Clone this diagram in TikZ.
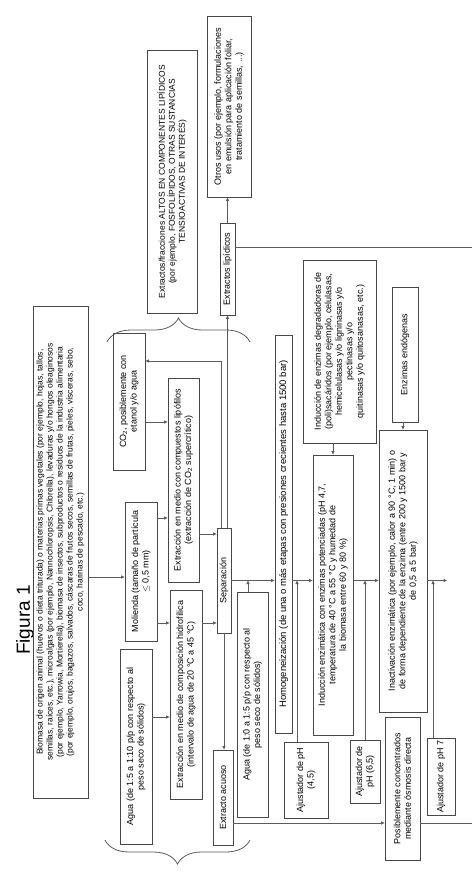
\documentclass[tikz,border=0pt]{standalone}
\usepackage{fontspec}
\setmainfont{Liberation Sans}
\usetikzlibrary{arrows.meta,decorations.pathreplacing}
\definecolor{Frame}{HTML}{474747}
\definecolor{Wire}{HTML}{5C5C5C}

\begin{document}
\begin{tikzpicture}[x=1pt,y=-1pt,
  box/.style={draw=Frame,line width=0.8pt,fill=white,rotate=90,align=center,inner sep=1.5pt,
    font=\fontsize{9}{10.5}\selectfont},
  small/.style={font=\fontsize{8.5}{10}\selectfont},
  arr/.style={Wire,line width=0.8pt,-{Triangle[length=3.5pt,width=3pt]}},
  lin/.style={Wire,line width=0.8pt},
  brc/.style={Wire,line width=0.8pt,decorate,decoration={brace,amplitude=24pt}}]
  \useasboundingbox (0,0) rectangle (472,872);

  \node[rotate=90,font=\fontsize{19}{22}\selectfont] (fig) at (25,620) {Figura 1};

  % materia prima y extraccion
  \node[box,small,minimum width=492pt,minimum height=55pt] (bio) at (60.5,552)
    {Biomasa de origen animal (huevos o dieta triturada) o materias primas vegetales (por ejemplo, hojas, tallos,\\
     semillas, raíces, etc.), microalgas (por ejemplo, Nannochloropsis, Chlorella), levaduras y/o hongos oleaginosos\\
     (por ejemplo, Yarrowia, Mortierella), biomasa de insectos, subproductos o residuos de la industria alimentaria\\
     (por ejemplo, orujos, bagazos, salvados, cáscaras de frutos secos, semillas de frutas, pieles, vísceras, sebo,\\
     coco, harinas de pescado, etc.)};
  \node[box,minimum width=137pt,minimum height=32pt] (co2) at (129,401.5)
    {CO\textsubscript{2}, posiblemente con\\ etanol y/o agua};
  \node[box,minimum width=139pt,minimum height=32pt] (mol) at (141,571.5)
    {Molienda (tamaño de partícula\\ $\leq$ 0,5 mm)};
  \node[box,minimum width=195pt,minimum height=32pt] (agua1) at (136,746.5)
    {Agua (de 1:5 a 1:10 p/p con respecto al\\ peso seco de sólidos)};
  \node[box,minimum width=204pt,minimum height=31pt] (scf) at (183.5,480)
    {Extracción en medio con compuestos lipófilos\\ (extracción de CO\textsubscript{2} supercrítico)};
  \node[box,minimum width=209pt,minimum height=32pt] (hid) at (186,694.5)
    {Extracción en medio de composición hidrofílica\\ (intervalo de agua de 20 °C a 45 °C)};
  \node[box,small,minimum width=263pt,minimum height=50pt] (frac) at (172,181.5)
    {Extractos/fracciones ALTOS EN COMPONENTES LIPÍDICOS\\
     (por ejemplo, FOSFOLÍPIDOS, OTRAS SUSTANCIAS\\ TENSIOACTIVAS DE INTERÉS)};
  \node[box,minimum width=181pt,minimum height=44pt] (otros) at (229,106.5)
    {Otros usos (por ejemplo, formulaciones\\ en emulsión para aplicación foliar,\\ tratamiento de semillas, ...)};
  \node[box,minimum width=92pt,minimum height=15pt] (lip) at (227.5,269) {Extractos lipídicos};
  \node[box,minimum width=105pt,minimum height=14pt] (sep) at (224,580.5) {Separación};
  \node[box,minimum width=95pt,minimum height=20pt] (acu) at (223,797.5) {Extracto acuoso};

  % tratamiento del residuo
  \node[box,minimum width=225pt,minimum height=31pt] (agua2) at (252.5,704.5)
    {Agua (de 1:0 a 1:5 p/p con respecto al\\ peso seco de sólidos)};
  \node[box,font=\fontsize{9.5}{11}\selectfont,minimum width=398pt,minimum height=17pt] (hom) at (283.5,534)
    {Homogeneización (de una o más etapas con presiones crecientes hasta 1500 bar)};
  \node[box,minimum width=76pt,minimum height=44pt] (aj1) at (306,780) {Ajustador de pH\\ (4,5)};
  \node[box,minimum width=183pt,minimum height=73pt] (enz) at (339.5,351.5)
    {Inducción de enzimas degradadoras de\\ (poli)sacáridos (por ejemplo, celulasas,\\
     hemicelulasas y/o ligninasas y/o\\ pectinasas y/o\\ quitinasas y/o quitosanasas, etc.)};
  \node[box,minimum width=280pt,minimum height=40pt] (indu) at (333,595)
    {Inducción enzimática con enzimas potenciadas (pH 4,7,\\ temperatura de 40 °C a 55 °C y humedad de\\
     la biomasa entre 60 y 80 \%)};
  \node[box,minimum width=63pt,minimum height=30pt] (aj2) at (365,771.5) {Ajustador de\\ pH (6,5)};
  \node[box,minimum width=135pt,minimum height=26pt] (endo) at (405,354.5) {Enzimas endógenas};
  \node[box,minimum width=282pt,minimum height=48pt] (inac) at (403,571)
    {Inactivación enzimática (por ejemplo, calor a 90 °C, 1 min) o\\
     de forma dependiente de la enzima (entre 200 y 1500 bar y\\ de 0,5 a 5 bar)};
  \node[box,minimum width=143pt,minimum height=35pt] (pos) at (402.5,788.5)
    {Posiblemente concentrados\\ mediante ósmosis directa};
  \node[box,minimum width=77pt,minimum height=28pt] (aj3) at (441,776.5) {Ajustador de pH 7};

  % niveles de las lineas
  \coordinate (yRec) at (0,361);
  \coordinate (yCO) at (0,422);
  \coordinate (yMol) at (0,518);
  \coordinate (ySc) at (0,534);
  \coordinate (yBio) at (0,577);
  \coordinate (yHid) at (0,623);
  \coordinate (yAg) at (0,717);
  \coordinate (yLip) at (0,247);
  \coordinate (yAcu) at (0,823);
  \coordinate (xRec) at (221,0);
  \coordinate (xAg) at (248,0);
  \coordinate (xAj1) at (297,0);
  \coordinate (xAj2) at (365,0);
  \coordinate (xAj3) at (433,0);
  \coordinate (edge) at (472,0);
  \coordinate (out) at (447,580.5);

  \draw[arr] (bio.south |- yBio) -- (mol.north |- yBio);
  \draw[arr] (co2.south |- yCO) -- (scf.north |- yCO);
  \draw[arr] (mol.south |- yMol) -- (scf.north |- yMol);
  \draw[arr] (mol.south |- yHid) -- (hid.north |- yHid);
  \draw[arr] (agua1.south |- yAg) -- (hid.north |- yAg);
  \draw[arr] (scf.south |- ySc) -- (sep.north |- ySc);
  \draw[arr] (hid.south |- yHid) -- (sep.north |- yHid);
  \draw[arr] (sep.east -| lip.west) -- (lip.west);
  \draw[arr] (sep.east -| xRec) |- (co2.south |- yRec);
  \draw[arr] (lip.east) -- (lip.east |- otros.west);
  \draw[lin] (lip.south |- yLip) -- (edge |- yLip);
  \draw[arr] (sep.west) -- (sep.west |- acu.east);
  \draw[arr] (acu.south |- yAcu) -- (pos.north |- yAcu);
  \draw[lin] (pos.south |- yAcu) -- (edge |- yAcu);

  % linea principal
  \draw[arr] (sep.south) -- (sep.south -| hom.north);
  \draw[arr] (hom.south |- sep.south) -- (indu.north |- sep.south);
  \draw[arr] (indu.south |- sep.south) -- (inac.north |- sep.south);
  \draw[arr] (inac.south |- sep.south) -- (out);
  \draw[arr] (agua2.east -| xAg) -- (xAg |- sep.south);
  \draw[arr] (aj1.east -| xAj1) -- (xAj1 |- sep.south);
  \draw[arr] (aj2.east -| xAj2) -- (xAj2 |- sep.south);
  \draw[arr] (aj3.east -| xAj3) -- (xAj3 |- sep.south);
  \draw[arr] (enz.west -| indu.east) -- (indu.east);
  \draw[arr] (endo.west -| inac.east) -- (inac.east);

  \draw[brc] (107,342) -- (250,342);
  \draw[brc] (250,840) -- (105,840);
\end{tikzpicture}
\end{document}
